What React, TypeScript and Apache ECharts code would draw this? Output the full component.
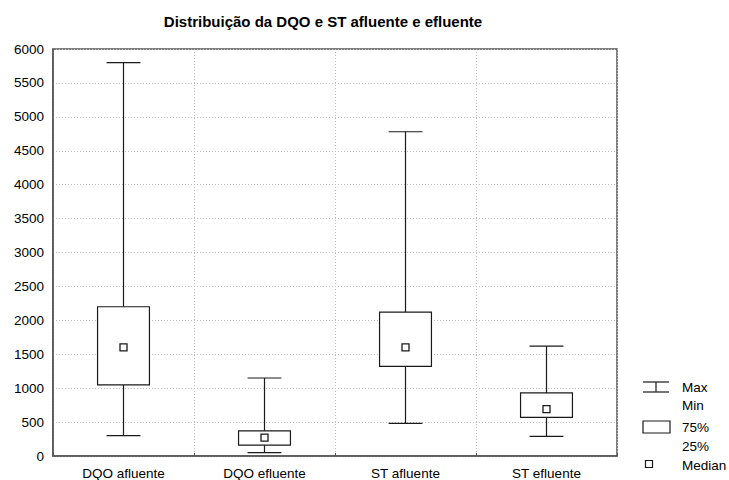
import React, { useEffect, useRef } from "react";
import * as echarts from "echarts";

const categories = ["DQO afluente", "DQO efluente", "ST afluente", "ST efluente"];
const minValues = [300, 50, 480, 290];
const q1Values = [1050, 160, 1320, 570];
const medianValues = [1600, 270, 1600, 690];
const q3Values = [2200, 370, 2120, 930];
const maxValues = [5800, 1150, 4780, 1620];

const titleText = "Distribuição da DQO e ST afluente e efluente";
const legendLabels = ["Max", "Min", "75%", "25%", "Median"];

const FONT = 'Arial, "Liberation Sans", sans-serif';
const LINE = "#1a1a1a";
const FRAME = "#555555";

export default function App() {
  const ref = useRef<HTMLDivElement>(null);

  useEffect(() => {
    if (!ref.current) return;
    const chart = echarts.init(ref.current, null, { renderer: "svg" });

    const data = categories.map((_, i) => [
      i,
      minValues[i],
      q1Values[i],
      medianValues[i],
      q3Values[i],
      maxValues[i],
    ]);

    const renderItem = (params: any, api: any) => {
      const idx = api.value(0);
      const band = api.size([1, 0])[0];
      const boxW = band * 0.368;
      const capW = band * 0.24;
      const pMin = api.coord([idx, api.value(1)]);
      const pQ1 = api.coord([idx, api.value(2)]);
      const pMed = api.coord([idx, api.value(3)]);
      const pQ3 = api.coord([idx, api.value(4)]);
      const pMax = api.coord([idx, api.value(5)]);
      const cx = pMed[0];
      const ls = { stroke: LINE, lineWidth: 1.2, fill: null };
      return {
        type: "group",
        children: [
          { type: "line", shape: { x1: cx, y1: pMax[1], x2: cx, y2: pQ3[1] }, style: ls },
          { type: "line", shape: { x1: cx, y1: pQ1[1], x2: cx, y2: pMin[1] }, style: ls },
          { type: "line", shape: { x1: cx - capW / 2, y1: pMax[1], x2: cx + capW / 2, y2: pMax[1] }, style: ls },
          { type: "line", shape: { x1: cx - capW / 2, y1: pMin[1], x2: cx + capW / 2, y2: pMin[1] }, style: ls },
          {
            type: "rect",
            shape: { x: cx - boxW / 2, y: pQ3[1], width: boxW, height: pQ1[1] - pQ3[1] },
            style: { stroke: LINE, lineWidth: 1.2, fill: "#ffffff" },
          },
          {
            type: "rect",
            shape: { x: cx - 3.5, y: pMed[1] - 3.5, width: 7, height: 7 },
            style: { stroke: LINE, lineWidth: 1.3, fill: "#ffffff" },
          },
        ],
      };
    };

    const textStyle = { fontFamily: FONT, fontSize: 13.5, fill: "#000" };
    const lg = { stroke: LINE, lineWidth: 1.2, fill: null };

    chart.setOption({
      animation: false,
      backgroundColor: "#ffffff",
      title: {
        text: titleText,
        left: 318,
        top: 9,
        textAlign: "center",
        textStyle: { fontFamily: FONT, fontSize: 15, fontWeight: "bold", color: "#000" },
      },
      grid: {
        left: 53,
        right: 112,
        top: 49,
        bottom: 24,
        show: true,
        borderColor: FRAME,
        borderWidth: 1.5,
        backgroundColor: "#ffffff",
      },
      xAxis: {
        type: "category",
        data: categories,
        boundaryGap: true,
        axisLine: { show: true, lineStyle: { color: FRAME, width: 1.5 } },
        axisTick: { show: true, inside: true, length: 3, alignWithLabel: false, lineStyle: { color: FRAME } },
        axisLabel: { color: "#000", fontFamily: FONT, fontSize: 13.5, margin: 10 },
        splitLine: { show: true, interval: 0, lineStyle: { color: "#bdbdbd", type: [1, 2], width: 1 } },
      },
      yAxis: {
        type: "value",
        min: 0,
        max: 6000,
        interval: 500,
        axisLine: { show: true, lineStyle: { color: FRAME, width: 1.5 } },
        axisTick: { show: false },
        axisLabel: {
          color: "#000",
          fontFamily: FONT,
          fontSize: 13.5,
          margin: 9,
          formatter: (v: number) => String(v),
        },
        splitLine: { show: true, lineStyle: { color: "#bdbdbd", type: [1, 2], width: 1 } },
      },
      series: [
        {
          type: "custom",
          renderItem,
          data,
          encode: { x: 0, y: [1, 2, 3, 4, 5] },
          z: 5,
        },
      ],
      graphic: [
        { type: "line", shape: { x1: 643, y1: 382, x2: 669, y2: 382 }, style: lg },
        { type: "line", shape: { x1: 643, y1: 392, x2: 669, y2: 392 }, style: lg },
        { type: "line", shape: { x1: 656, y1: 382, x2: 656, y2: 392 }, style: lg },
        { type: "text", x: 682, y: 387, style: { ...textStyle, text: legendLabels[0], verticalAlign: "middle" } },
        { type: "text", x: 682, y: 405, style: { ...textStyle, text: legendLabels[1], verticalAlign: "middle" } },
        { type: "rect", shape: { x: 643, y: 421, width: 27, height: 12 }, style: { stroke: LINE, lineWidth: 1.2, fill: "#fff" } },
        { type: "text", x: 682, y: 427, style: { ...textStyle, text: legendLabels[2], verticalAlign: "middle" } },
        { type: "text", x: 682, y: 446, style: { ...textStyle, text: legendLabels[3], verticalAlign: "middle" } },
        { type: "rect", shape: { x: 645.5, y: 460.5, width: 7, height: 7 }, style: { stroke: LINE, lineWidth: 1.2, fill: "#fff" } },
        { type: "text", x: 682, y: 465, style: { ...textStyle, text: legendLabels[4], verticalAlign: "middle" } },
      ],
    });

    return () => chart.dispose();
  }, []);

  return (
    <div
      ref={ref}
      style={{ position: "fixed", left: 0, top: 0, width: 729, height: 480, background: "#fff" }}
    />
  );
}
